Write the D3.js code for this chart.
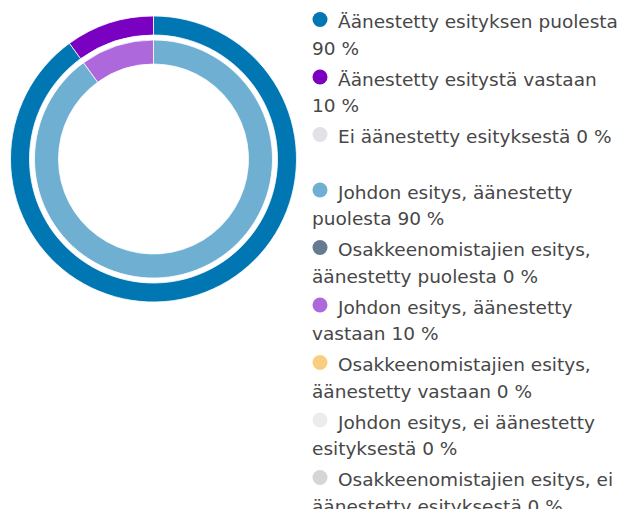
<!DOCTYPE html>
<html>
<head>
<meta charset="utf-8">
<script src="https://cdn.jsdelivr.net/npm/d3@7"></script>
<style>
  body { margin: 0; background: #fff; }
  text { font-family: "DejaVu Sans", sans-serif; }
</style>
</head>
<body>
<div id="chart"></div>
<script>
// outer ring: votes
const voteLabels = ['Äänestetty esityksen puolesta', 'Äänestetty esitystä vastaan', 'Ei äänestetty esityksestä'];
const voteValues = [90, 10, 0];
const voteColors = ['#0077b3', '#7a00c2', '#e1e1e6'];

// inner ring: by proposal
const propLabels = [
  'Johdon esitys, äänestetty puolesta',
  'Osakkeenomistajien esitys, äänestetty puolesta',
  'Johdon esitys, äänestetty vastaan',
  'Osakkeenomistajien esitys, äänestetty vastaan',
  'Johdon esitys, ei äänestetty esityksestä',
  'Osakkeenomistajien esitys, ei äänestetty esityksestä'
];
const propValues = [90, 0, 10, 0, 0, 0];
const propColors = ['#6eafd2', '#667b92', '#ad69dc', '#f8cf7e', '#ececef', '#d5d5d7'];

const width = 631;
const height = 509;
const cx = 153.5, cy = 159;

const svg = d3.select('#chart')
  .append('svg')
  .attr('width', width)
  .attr('height', height);

const pie = d3.pie().sort(null).value(d => d);

const outerArc = d3.arc().innerRadius(124).outerRadius(143);
const innerArc = d3.arc().innerRadius(95).outerRadius(119);

const g = svg.append('g').attr('transform', `translate(${cx},${cy})`);

g.append('g')
  .selectAll('path')
  .data(pie(voteValues))
  .join('path')
    .attr('d', outerArc)
    .attr('fill', (d, i) => voteColors[i])
    .attr('stroke', '#fff')
    .attr('stroke-width', d => d.value ? 0.8 : 0);

g.append('g')
  .selectAll('path')
  .data(pie(propValues))
  .join('path')
    .attr('d', innerArc)
    .attr('fill', (d, i) => propColors[i])
    .attr('stroke', '#fff')
    .attr('stroke-width', d => d.value ? 0.8 : 0);

// legend (number and % kept together with a no-break space)
const groups = [
  voteLabels.map((l, i) => ({ text: `${l} ${voteValues[i]}\u00a0%`, color: voteColors[i] })),
  propLabels.map((l, i) => ({ text: `${l} ${propValues[i]}\u00a0%`, color: propColors[i] }))
];

const legend = svg.append('g');
const textX = 338, markerX = 320, wrapX = 312;
const lineH = 26.5, itemGap = 4.5, groupGap = 24.5;
const fontSize = 18.5;

// measure-based word wrap
const probe = legend.append('text').attr('font-size', fontSize);
function wrap(str) {
  const words = str.split(' ');
  const lines = [];
  let cur = '';
  for (const w of words) {
    const test = cur ? cur + ' ' + w : w;
    probe.text(test);
    const limit = (lines.length ? width - wrapX : width - textX) - 2;
    if (probe.node().getComputedTextLength() > limit && cur) {
      lines.push(cur);
      cur = w;
    } else cur = test;
  }
  lines.push(cur);
  return lines;
}

let y = 20;
groups.forEach((items, gi) => {
  if (gi > 0) y += groupGap;
  items.forEach(item => {
    const lines = wrap(item.text);
    legend.append('circle')
      .attr('cx', markerX)
      .attr('cy', y - 0.5)
      .attr('r', 7.5)
      .attr('fill', item.color);
    const t = legend.append('text')
      .attr('font-size', fontSize)
      .attr('fill', '#474747')
      .attr('dominant-baseline', 'central');
    lines.forEach((ln, li) => {
      t.append('tspan')
        .attr('x', li === 0 ? textX : wrapX)
        .attr('y', y + li * lineH + 1)
        .text(ln);
    });
    y += lines.length * lineH + itemGap;
  });
});
probe.remove();
</script>
</body>
</html>
